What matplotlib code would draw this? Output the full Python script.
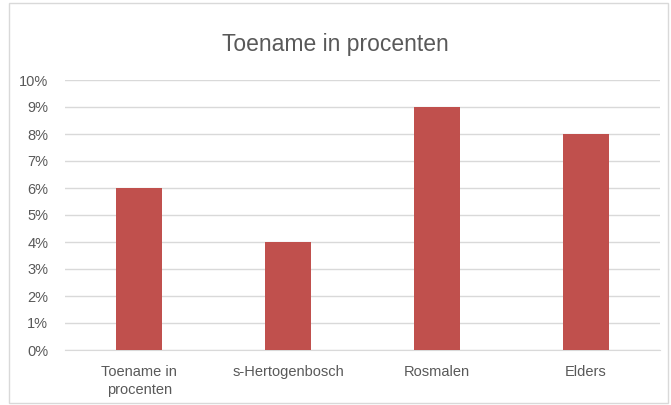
import matplotlib.pyplot as plt
from matplotlib.ticker import PercentFormatter
from matplotlib.patches import Rectangle

categories = ["Toename in\nprocenten", "s-Hertogenbosch", "Rosmalen", "Elders"]
values = [6, 4, 9, 8]
yticks = list(range(0, 11))

plt.rcParams['font.family'] = ['Liberation Sans', 'DejaVu Sans']

fig = plt.figure(figsize=(6.71, 4.05), dpi=100)
ax = fig.add_axes([65 / 671, 55 / 405, 595 / 671, 270 / 405])

ax.bar(range(len(categories)), values, width=0.31, color="#C0504D", zorder=3)
ax.set_xlim(-0.5, len(categories) - 0.5)
ax.set_ylim(0, 10)
ax.set_yticks(yticks)
ax.yaxis.set_major_formatter(PercentFormatter(decimals=0))
ax.set_xticks(range(len(categories)))
ax.set_xticklabels(categories, linespacing=1.35)
ax.grid(axis='y', color="#D9D9D9", linewidth=1, zorder=0)
for s in ['top', 'right', 'left']:
    ax.spines[s].set_visible(False)
ax.spines['bottom'].set_color("#D9D9D9")
ax.tick_params(axis='both', length=0, colors="#595959", labelsize=10.5)
ax.tick_params(axis='y', pad=12)
ax.tick_params(axis='x', pad=11)

fig.text(0.5, 1 - 45 / 405, "Toename in procenten", ha='center', va='center',
         fontsize=16.5, color="#595959")

fig.patches.append(Rectangle((9 / 671, 2 / 405), 659 / 671, 400 / 405,
                             transform=fig.transFigure, fill=False,
                             edgecolor="#D9D9D9", linewidth=1))

fig.savefig("out.png", dpi=100)
